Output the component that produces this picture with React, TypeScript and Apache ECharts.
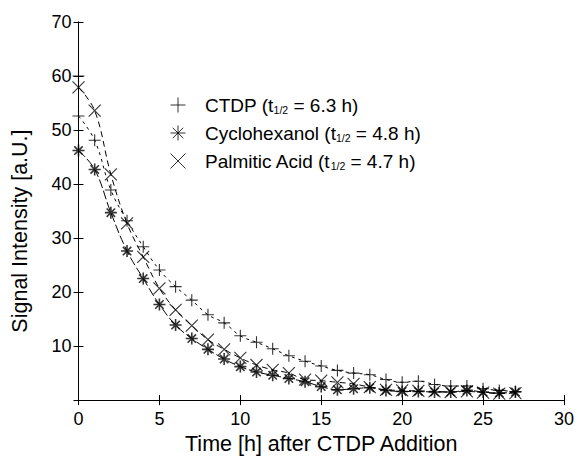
import React, { useEffect, useRef } from "react";
import * as echarts from "echarts";

const hours = [0, 1, 2, 3, 4, 5, 6, 7, 8, 9, 10, 11, 12, 13, 14, 15, 16, 17, 18, 19, 20, 21, 22, 23, 24, 25, 26, 27];
const ctdp = [52.6, 48.1, 38.9, 33.2, 28.4, 24.1, 21.0, 18.5, 15.8, 14.3, 11.9, 10.7, 9.5, 8.2, 7.2, 6.3, 5.5, 5.0, 4.7, 3.8, 3.3, 3.5, 2.9, 2.6, 2.6, 2.1, 1.8, 1.6];
const ctdpExtra = [[0, 60.0]];
const cyclohexanol = [46.2, 42.7, 34.7, 27.6, 22.5, 17.7, 13.9, 11.4, 9.4, 7.6, 6.2, 5.2, 4.6, 4.0, 3.4, 2.5, 1.9, 2.1, 2.3, 1.8, 1.6, 1.6, 1.5, 1.5, 1.8, 1.5, 1.3, 1.5];
const palmitic = [57.9, 53.6, 41.8, 32.7, 26.5, 20.7, 16.7, 13.8, 11.2, 9.4, 7.8, 6.5, 5.6, 5.0, 3.8, 3.6, 3.3, 3.0, 2.4, 1.9, 1.8, 1.7, 1.6, 1.5, 1.6, 1.4, 1.2, 1.3];
const seriesNames = ["CTDP", "Cyclohexanol", "Palmitic Acid"];
const halfLives = ["6.3", "4.8", "4.7"];
const xTicks = { min: 0, max: 30, interval: 5 };
const yTicks = { min: 0, max: 70, interval: 10 };

const PLUS = "path://M0,5 L10,5 M5,0 L5,10";
const STAR = "path://M5,0 L5,10 M0,5 L10,5 M1.5,1.5 L8.5,8.5 M1.5,8.5 L8.5,1.5";
const CROSS = "path://M0,0 L10,10 M0,10 L10,0";
const FONT = "Liberation Sans, Arial, Helvetica, sans-serif";

export default function App() {
  const ref = useRef<HTMLDivElement>(null);
  useEffect(() => {
    if (!ref.current) return;
    const chart = echarts.init(ref.current, null, { renderer: "svg" });
    const pair = (arr: number[]) => hours.map((h, i) => [h, arr[i]]);
    const symbols = [PLUS, STAR, CROSS];
    const datasets = [pair(ctdp), pair(cyclohexanol), pair(palmitic)];
    const dashes = [[3, 4], [9, 3], [6, 4]];
    const series: any[] = [];
    datasets.forEach((d, i) => {
      series.push({
        name: seriesNames[i],
        type: "scatter",
        data: i === 0 ? ctdpExtra.concat(d) : d,
        symbol: symbols[i],
        symbolSize: 12,
        itemStyle: { color: "none", borderColor: "#000", borderWidth: i === 1 ? 1.6 : 1.1 },
        z: 3,
      });
      series.push({
        name: seriesNames[i] + " fit",
        type: "line",
        data: d,
        smooth: 0.4,
        showSymbol: false,
        symbol: "none",
        lineStyle: { color: "#000", width: 1, type: dashes[i] },
        z: 2,
      });
    });
    const axisCommon = {
      axisLine: { show: true, lineStyle: { color: "#000", width: 1 } },
      axisTick: { show: true, inside: true, length: 5, lineStyle: { color: "#000" } },
      splitLine: { show: false },
    };
    chart.setOption({
      animation: false,
      backgroundColor: "#fff",
      textStyle: { fontFamily: FONT },
      grid: { left: 78.5, right: 13, top: 22, bottom: 53.5, containLabel: false },
      legend: {
        data: seriesNames.map((n, i) => ({ name: n, icon: symbols[i] })),
        orient: "vertical",
        left: 163,
        top: 90,
        itemWidth: 44,
        itemHeight: 15,
        itemGap: 8,
        itemStyle: { color: "none", borderColor: "#000", borderWidth: 1 },
        formatter: (name: string) => {
          const i = seriesNames.indexOf(name);
          return `{n|${name} (t}{s|1/2}{n| = ${halfLives[i]} h)}`;
        },
        textStyle: {
          color: "#000",
          fontFamily: FONT,
          fontSize: 19,
          rich: {
            n: { fontSize: 19, fontFamily: FONT, color: "#000", lineHeight: 20 },
            s: { fontSize: 10.5, fontFamily: FONT, color: "#000", verticalAlign: "bottom", lineHeight: 20, padding: [7, 0, 0, 0] },
          },
        },
      },
      xAxis: [
        {
          type: "value",
          ...xTicks,
          ...axisCommon,
          name: "Time [h] after CTDP Addition",
          nameLocation: "middle",
          nameGap: 23,
          nameTextStyle: { color: "#000", fontSize: 21.5, fontFamily: FONT },
          axisLabel: { color: "#000", fontSize: 18, fontFamily: FONT, margin: 10 },
        },
        {
          type: "value",
          position: "top",
          ...xTicks,
          ...axisCommon,
          axisLabel: { show: false },
        },
      ],
      yAxis: [
        {
          type: "value",
          ...yTicks,
          ...axisCommon,
          name: "Signal Intensity [a.U.]",
          nameLocation: "middle",
          nameGap: 48,
          nameTextStyle: { color: "#000", fontSize: 21.5, fontFamily: FONT, padding: [0, 40, 0, 0] },
          axisLabel: { color: "#000", fontSize: 18, fontFamily: FONT, showMinLabel: false, margin: 7 },
        },
        {
          type: "value",
          position: "right",
          ...yTicks,
          ...axisCommon,
          axisLabel: { show: false },
        },
      ],
      series,
    });
    return () => chart.dispose();
  }, []);
  return <div ref={ref} style={{ position: "fixed", left: 0, top: 0, width: 577, height: 460 }} />;
}
